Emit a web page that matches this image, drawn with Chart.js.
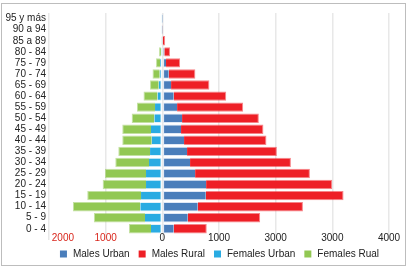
<!DOCTYPE html>
<html>
<head>
<meta charset="utf-8">
<script src="https://cdn.jsdelivr.net/npm/chart.js@4"></script>
<style>
    body { margin: 0; background: #fff; }
    #wrap { position: relative; width: 407px; height: 266px; }
    #frame { position: absolute; left: 1px; top: 3px; width: 403px; height: 261px; border: 1px solid #bdbdbd; }
    #chart { position: absolute; left: 0; top: 0; }
</style>
</head>
<body>
<div id="wrap">
    <div id="frame"></div>
    <canvas id="chart" width="407" height="266"></canvas>
</div>
<script>
// Age groups, bottom to top
const ageGroups = ['0 - 4', '5 - 9', '10 - 14', '15 - 19', '20 - 24', '25 - 29', '30 - 34', '35 - 39',
    '40 - 44', '45 - 49', '50 - 54', '55 - 59', '60 - 64', '65 - 69', '70 - 74', '75 - 79',
    '80 - 84', '85 a 89', '90 a 94', '95 y más'];

const malesUrban = [201, 449, 625, 767, 772, 578, 489, 436, 383, 330, 348, 260, 201, 154, 113, 65, 35, 8, 3, 1];
const malesRural = [583, 1277, 1856, 2431, 2226, 2026, 1780, 1585, 1454, 1454, 1355, 1166, 926, 676, 470, 248, 100, 42, 6, 2];
const femalesUrban = [200, 306, 389, 376, 288, 288, 235, 217, 187, 200, 141, 129, 85, 64, 46, 40, 25, 5, 3, 1];
const femalesRural = [388, 901, 1189, 949, 765, 724, 595, 560, 520, 507, 400, 318, 247, 153, 127, 71, 33, 5, 3, 1];

// x tick labels as printed, for -2000 .. 4000
const xTickLabels = ['2000', '1000', '0', '1000', '3000', '3000', '4000'];

const seriesNames = ['Males Urban', 'Males Rural', 'Females Urban', 'Females Rual'];

function toPoints(values, sign) {
    return values.map((v, i) => ({ x: sign * v, y: i }));
}

function makeSet(label, values, sign, color, edge, skip) {
    return {
        label: label,
        data: toPoints(values, sign),
        backgroundColor: color,
        borderColor: edge,
        borderWidth: 1,
        borderSkipped: skip,
        barPercentage: 0.85,
        categoryPercentage: 1
    };
}

Chart.defaults.font.family = '"Liberation Sans", Arial, sans-serif';
Chart.defaults.font.size = 10;

new Chart(document.getElementById('chart'), {
    type: 'bar',
    data: {
        datasets: [
            makeSet(seriesNames[0], malesUrban, 1, '#4a7ebb', 'rgba(220,230,245,0.9)', 'end'),
            makeSet(seriesNames[1], malesRural, 1, '#ee1f26', 'rgba(238,31,38,0.55)', 'start'),
            makeSet(seriesNames[2], femalesUrban, -1, '#29abe2', 'rgba(220,240,250,0.9)', 'end'),
            makeSet(seriesNames[3], femalesRural, -1, '#92c853', 'rgba(146,200,83,0.55)', 'start')
        ]
    },
    options: {
        indexAxis: 'y',
        responsive: false,
        animation: false,
        layout: { padding: { left: 4, right: 18, top: 13, bottom: -3 } },
        scales: {
            x: {
                type: 'linear',
                stacked: true,
                min: -2000,
                max: 4000,
                border: { display: false },
                grid: { color: '#e8e8e8', lineWidth: 1.5, drawTicks: false },
                afterFit: s => { s.height = 1; },
                ticks: {
                    stepSize: 1000,
                    mirror: true,
                    padding: -4,
                    maxRotation: 0,
                    color: ctx => ctx.tick.value < 0 ? '#d9261c' : '#222',
                    // first label sits inside the plot, as in the original
                    callback: (v, i) => (i === 0 ? ' '.repeat(10) : '') + xTickLabels[Math.round((v + 2000) / 1000)]
                }
            },
            y: {
                type: 'linear',
                stacked: true,
                min: -0.5,
                max: 19,
                border: { display: false },
                grid: { display: false, drawTicks: false },
                afterFit: s => { s.width = 45; },
                afterBuildTicks: s => { s.ticks = ageGroups.map((_, i) => ({ value: i })); },
                ticks: {
                    padding: 3,
                    color: '#222',
                    autoSkip: false,
                    callback: v => ageGroups[v]
                }
            }
        },
        plugins: {
            tooltip: { enabled: false },
            legend: {
                position: 'bottom',
                fullSize: false,
                labels: {
                    boxWidth: 9,
                    boxHeight: 9,
                    padding: 8,
                    color: '#222',
                    generateLabels: chart => Chart.defaults.plugins.legend.labels.generateLabels(chart)
                        .map(item => Object.assign(item, { strokeStyle: '#fff', lineWidth: 2 }))
                }
            }
        }
    }
});
</script>
</body>
</html>
